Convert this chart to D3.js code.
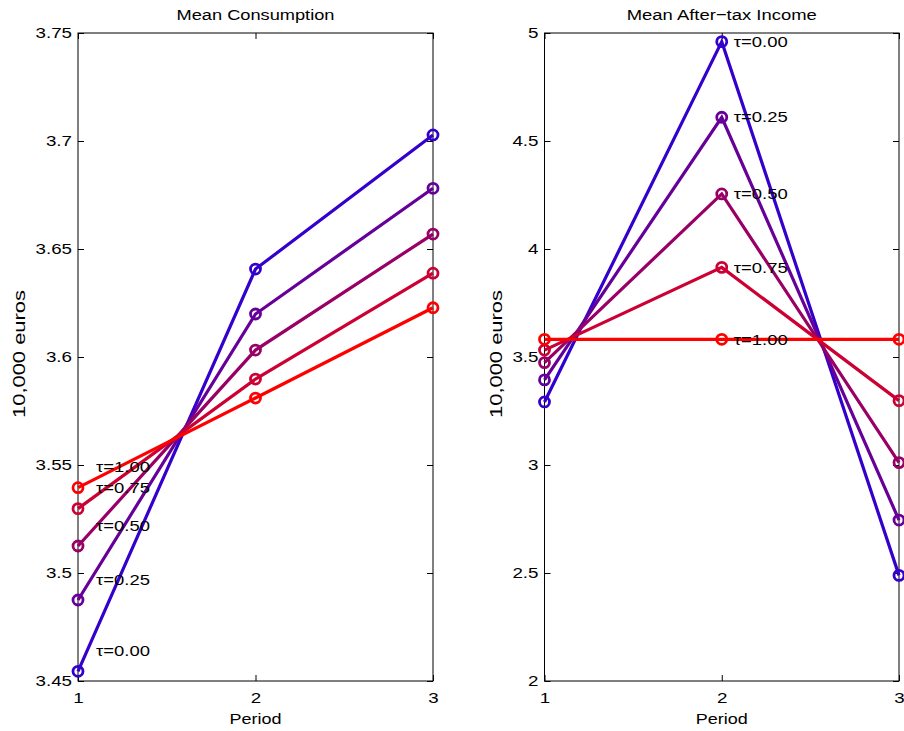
<!DOCTYPE html>
<html><head><meta charset="utf-8">
<script src="https://cdn.jsdelivr.net/npm/d3@7"></script>
<style>body{margin:0;background:#fff}svg{display:block}text{font-family:"Liberation Sans",Arial,sans-serif;fill:#000}</style>
</head><body><svg id="c" width="904" height="731"></svg>
<script>
const periods = [1, 2, 3];
const taus = ["0.00", "0.25", "0.50", "0.75", "1.00"];
const colors = ["#3300cc", "#660099", "#990066", "#cc0033", "#ff0000"];
const consumption = [
  [3.4545, 3.6407, 3.7028],
  [3.4875, 3.6199, 3.6781],
  [3.5125, 3.6032, 3.6569],
  [3.5298, 3.5898, 3.6388],
  [3.5395, 3.5810, 3.6228]
];
const income = [
  [3.292, 4.960, 2.489],
  [3.394, 4.610, 2.745],
  [3.474, 4.255, 3.011],
  [3.532, 3.915, 3.298],
  [3.582, 3.582, 3.582]
];
const consTicks = [3.45, 3.5, 3.55, 3.6, 3.65, 3.7, 3.75];
const incTicks = [2, 2.5, 3, 3.5, 4, 4.5, 5];

const svg = d3.select("#c");
const FONT = "Liberation Sans, Arial, sans-serif";

function stretch(sel, k) {
  sel.each(function () {
    const w = this.getComputedTextLength();
    d3.select(this).attr("textLength", w * k).attr("lengthAdjust", "spacingAndGlyphs");
  });
}

function panel(opt) {
  const {x0, x1, y0, y1, domain, ticks, data, title, titleW, labelPos, labelDx, labelDy} = opt;
  const x = d3.scaleLinear().domain([1, 3]).range([x0, x1]);
  const y = d3.scaleLinear().domain(domain).range([y1, y0]);
  const g = svg.append("g");
  const fmt = d => String(+d.toFixed(2));

  g.append("rect").attr("x", x0).attr("y", y0).attr("width", x1 - x0).attr("height", y1 - y0)
    .attr("fill", "none").attr("stroke", "#000").attr("stroke-width", 1);

  const ax = (a, tr) => {
    const s = g.append("g").attr("transform", tr).call(a);
    s.select(".domain").remove();
    s.selectAll("line").attr("stroke", "#000");
    s.selectAll("text").style("font-size", "15px").style("font-family", FONT).attr("fill", "#000");
    return s;
  };
  const yl = ax(d3.axisLeft(y).tickValues(ticks).tickFormat(fmt).tickSize(-6).tickPadding(6), `translate(${x0},0)`);
  stretch(yl.selectAll("text"), 1.25);
  ax(d3.axisRight(y).tickValues(ticks).tickFormat("").tickSize(-6), `translate(${x1},0)`);
  const xl = ax(d3.axisBottom(x).tickValues(periods).tickFormat(d3.format("d")).tickSize(-6).tickPadding(11), `translate(0,${y1})`);
  stretch(xl.selectAll("text"), 1.25);
  ax(d3.axisTop(x).tickValues(periods).tickFormat("").tickSize(-6), `translate(0,${y0})`);

  const line = d3.line().x((d, i) => x(periods[i])).y(d => y(d));
  data.forEach((s, k) => {
    g.append("path").attr("d", line(s)).attr("fill", "none").attr("stroke", colors[k])
      .attr("stroke-width", 3.2).attr("stroke-linejoin", "miter");
    g.selectAll(null).data(s).join("circle")
      .attr("cx", (d, i) => x(periods[i])).attr("cy", d => y(d)).attr("r", 5)
      .attr("fill", "none").attr("stroke", colors[k]).attr("stroke-width", 2.8);
  });

  data.forEach((s, k) => {
    const px = labelPos - 1;
    g.append("text").attr("x", x(periods[px]) + labelDx).attr("y", y(s[px]) + labelDy)
      .attr("dy", "0.35em").style("font-size", "15px").text("τ=" + taus[k])
      .attr("textLength", 54).attr("lengthAdjust", "spacingAndGlyphs");
  });

  g.append("text").attr("x", (x0 + x1) / 2).attr("y", 19.5).attr("text-anchor", "middle")
    .style("font-size", "15.5px").text(title)
    .attr("textLength", titleW).attr("lengthAdjust", "spacingAndGlyphs");
  g.append("text").attr("x", (x0 + x1) / 2).attr("y", 724).attr("text-anchor", "middle")
    .style("font-size", "15.5px").text("Period")
    .attr("textLength", 52).attr("lengthAdjust", "spacingAndGlyphs");
  g.append("text").attr("transform", `translate(${opt.ylx},${(y0 + y1) / 2 - 3}) rotate(-90)`)
    .attr("text-anchor", "middle").attr("dy", "0.35em")
    .style("font-size", "16px").text("10,000 euros")
    .attr("textLength", 128).attr("lengthAdjust", "spacingAndGlyphs");
}

panel({x0: 78, x1: 433, y0: 33, y1: 681, domain: [3.45, 3.75], ticks: consTicks, data: consumption,
  title: "Mean Consumption", titleW: 158, labelPos: 1, labelDx: 18, labelDy: -20.5, ylx: 19});
panel({x0: 544.5, x1: 899, y0: 33, y1: 681, domain: [2, 5], ticks: incTicks, data: income,
  title: "Mean After\u2212tax Income", titleW: 190, labelPos: 2, labelDx: 12, labelDy: 0, ylx: 496});
</script></body></html>
